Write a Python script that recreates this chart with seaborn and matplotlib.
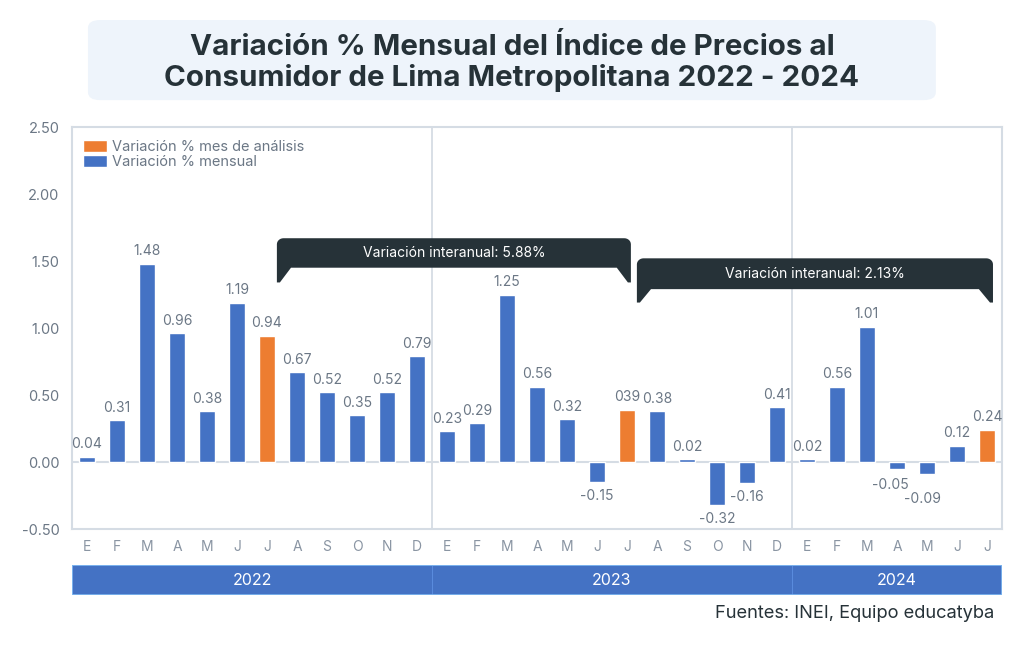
import numpy as np
import pandas as pd
import matplotlib
matplotlib.use("Agg")
import matplotlib.pyplot as plt
import seaborn as sns
from matplotlib.patches import Polygon, FancyBboxPatch, Patch

# ---------------- data ----------------
years = ["2022"] * 12 + ["2023"] * 12 + ["2024"] * 7
months = list("EFMAMJJASOND") + list("EFMAMJJASOND") + list("EFMAMJJ")
values = [0.04, 0.31, 1.48, 0.96, 0.38, 1.19, 0.94, 0.67, 0.52, 0.35, 0.52, 0.79,
          0.23, 0.29, 1.25, 0.56, 0.32, -0.15, 0.39, 0.38, 0.02, -0.32, -0.16, 0.41,
          0.02, 0.56, 1.01, -0.05, -0.09, 0.12, 0.24]
value_labels = ["0.04", "0.31", "1.48", "0.96", "0.38", "1.19", "0.94", "0.67", "0.52", "0.35", "0.52", "0.79",
                "0.23", "0.29", "1.25", "0.56", "0.32", "-0.15", "039", "0.38", "0.02", "-0.32", "-0.16", "0.41",
                "0.02", "0.56", "1.01", "-0.05", "-0.09", "0.12", "0.24"]
analysis_positions = [6, 18, 30]
series_names = ["Variación % mes de análisis", "Variación % mensual"]
interanual_texts = ["Variación interanual: 5.88%", "Variación interanual: 2.13%"]
interanual_ranges = [(6, 18), (18, 30)]
year_labels = ["2022", "2023", "2024"]
yticks = [-0.5, 0.0, 0.5, 1.0, 1.5, 2.0, 2.5]
title = "Variación % Mensual del Índice de Precios al\nConsumidor de Lima Metropolitana 2022 - 2024"
source = "Fuentes: INEI, Equipo educatyba"

BLUE = "#4472C4"
ORANGE = "#ED7D31"
DARK = "#263238"
GRID = "#D5DCE4"
LABEL = "#6B7785"

sns.set_theme(style="white")
plt.rcParams["font.family"] = ["Inter", "DejaVu Sans"]

keys = [f"{y}-{i:02d}" for i, y in enumerate(years)]
tipo = [series_names[0] if i in analysis_positions else series_names[1] for i in range(len(values))]
df = pd.DataFrame({"key": keys, "valor": values, "tipo": tipo})

fig = plt.figure(figsize=(10.24, 6.46), dpi=100)
fig.patch.set_facecolor("white")

# title box
fig.patches.append(FancyBboxPatch((0.0859, 0.845), 0.828, 0.124,
                                  boxstyle="round,pad=0,rounding_size=0.012",
                                  transform=fig.transFigure, facecolor="#EEF4FB",
                                  edgecolor="none", zorder=0))
fig.text(0.5, 0.903, title, ha="center", va="center", fontsize=21.3, fontweight="bold",
         color=DARK, linespacing=1.15)

ax = fig.add_axes([0.0703, 0.1811, 0.9082, 0.6223])
sns.barplot(data=df, x="key", y="valor", hue="tipo", hue_order=series_names,
            palette=[ORANGE, BLUE], dodge=False, width=0.55, order=keys,
            saturation=1, ax=ax, legend=False, zorder=3)

ax.set_xlim(-0.5, len(values) - 0.5)
ax.set_ylim(-0.5, 2.5)
ax.set_yticks(yticks)
ax.set_yticklabels([f"{t:.2f}" for t in yticks])
ax.set_xticks(range(len(values)))
ax.set_xticklabels(months)
ax.set_xlabel("")
ax.set_ylabel("")
ax.tick_params(axis="y", length=6, color=GRID, width=1.5, labelsize=10.5, labelcolor=LABEL, pad=3)
ax.tick_params(axis="x", length=0, labelsize=10, labelcolor="#8A95A3", pad=8)
for s in ax.spines.values():
    s.set_color(GRID)
    s.set_linewidth(1.5)

ax.axhline(0, color=GRID, lw=1.5, zorder=2)
# year separators
counts = [years.count(y) for y in year_labels]
b = 0
for c in counts[:-1]:
    b += c
    ax.axvline(b - 0.5, color=GRID, lw=1.3, zorder=1)

# value labels (small nudges where labels would collide)
nudges = {27: (-5, -2), 28: (-3, -8)}
for i, (v, t) in enumerate(zip(values, value_labels)):
    dx, dy = nudges.get(i, (0, 0))
    if v >= 0:
        ax.annotate(t, (i, v), xytext=(dx, 4 + dy), textcoords="offset points",
                    ha="center", va="bottom", fontsize=10, color=LABEL, zorder=5)
    else:
        ax.annotate(t, (i, v), xytext=(dx, -5 + dy), textcoords="offset points",
                    ha="center", va="top", fontsize=10, color=LABEL, zorder=5)

# interanual brackets
levels = [(1.67, 1.45, 1.34), (1.52, 1.29, 1.19)]
for (txt, (a, bb), (yt, yb, yl)) in zip(interanual_texts, interanual_ranges, levels):
    x0 = a + 0.33
    x1 = bb + 0.13 if bb < 30 else bb + 0.2
    rx, ry = 0.22, 0.045
    leg_w, tip_w = 0.47, 0.1
    th = np.linspace(0, np.pi / 2, 8)
    pts = [(x0, yl), (x0, yt - ry)]
    pts += [(x0 + rx - rx * np.cos(t), yt - ry + ry * np.sin(t)) for t in th]
    pts += [(x1 - rx + rx * np.sin(t), yt - ry + ry * np.cos(t)) for t in th]
    pts += [(x1, yl), (x1 - tip_w, yl), (x1 - leg_w, yb), (x0 + leg_w, yb), (x0 + tip_w, yl)]
    ax.add_patch(Polygon(pts, closed=True, facecolor=DARK, edgecolor="none", zorder=6))
    ax.text((x0 + x1) / 2, (yt + yb) / 2, txt, ha="center", va="center",
            fontsize=10, color="white", zorder=7)

# legend
handles = [Patch(facecolor=ORANGE, label=series_names[0]),
           Patch(facecolor=BLUE, label=series_names[1])]
ax.legend(handles=handles, loc="upper left", bbox_to_anchor=(0.012, 0.968),
          frameon=False, fontsize=10.5, handlelength=1.65, handleheight=0.95,
          labelspacing=0.05, handletextpad=0.3, borderpad=0, borderaxespad=0,
          labelcolor=LABEL)

# year band
bx = fig.add_axes([0.0703, 0.0789, 0.9082, 0.0464])
starts = []
s0 = 0
for c in counts:
    starts.append(s0)
    s0 += c
centers = [st + c / 2 - 0.5 for st, c in zip(starts, counts)]
bx.bar(centers, [1] * len(counts), width=counts, color=BLUE, edgecolor="#5B8DE0", linewidth=0.6)
for cx, yl_ in zip(centers, year_labels):
    bx.text(cx, 0.5, yl_, ha="center", va="center", color="white", fontsize=11.5)
bx.set_xlim(-0.5, len(values) - 0.5)
bx.set_ylim(0, 1)
bx.axis("off")
bx.add_patch(plt.Rectangle((-0.5, 0), len(values), 1, fill=False, edgecolor="#7FB8F0", lw=1.2))

fig.text(0.971, 0.051, source, ha="right", va="center", fontsize=13.2, color=DARK)

fig.savefig("out.png", dpi=100)
